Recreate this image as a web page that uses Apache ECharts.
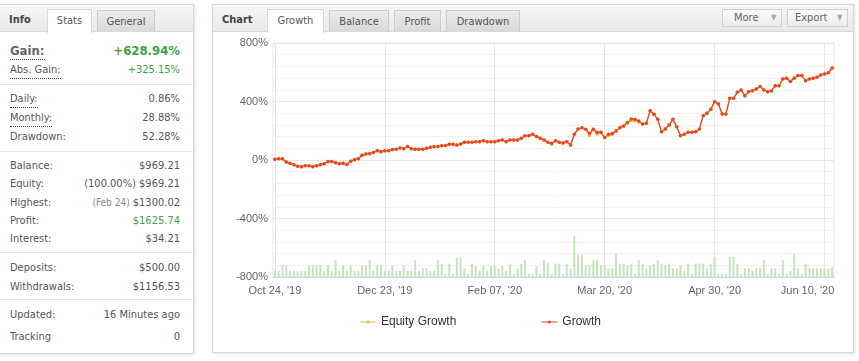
<!DOCTYPE html>
<html><head><meta charset="utf-8">
<script src="https://cdn.jsdelivr.net/npm/echarts@6/dist/echarts.min.js"></script>
<style>
html,body{margin:0;padding:0;width:859px;height:361px;overflow:hidden;background:#fff;}
body{position:relative;font-family:"DejaVu Sans Condensed","DejaVu Sans",sans-serif;font-stretch:condensed;font-size:11px;color:#555;}
.panel{position:absolute;background:#fff;border:1px solid #d9d9d9;box-shadow:1px 1px 3px rgba(0,0,0,0.13);}
.hdr{position:absolute;height:26px;background:linear-gradient(#f7f7f7,#e8e8e8);border-bottom:1px solid #d9d9d9;}
.ttl{position:absolute;font-weight:bold;color:#444;height:16px;line-height:16px;}
.tab{position:absolute;box-sizing:border-box;top:9px;height:23px;line-height:21px;text-align:center;color:#555;border:1px solid #cdcdcd;border-bottom:none;background:linear-gradient(#ececec,#d8d8d8);}
.tab.on{background:#fff;border-color:#d9d9d9;height:24px;}
.row{position:absolute;left:10px;width:170px;height:16px;line-height:16px;}
.row .l{position:absolute;left:0;top:0;height:16px;}
.row .v{position:absolute;right:0;top:0;color:#555;}
.dot{border-bottom:1px dotted #444;}
.g{color:#3fa33f !important;}
.sm{color:#888;font-size:10px;}
.sep{position:absolute;left:0;width:193px;height:1px;background:#e6e6e6;}
.btn{position:absolute;box-sizing:border-box;top:9px;height:18px;border:1px solid #cfcfcf;background:linear-gradient(#fbfbfb,#ececec);color:#666;line-height:16px;}
.btn .t{position:absolute;top:0;}
.btn .a{position:absolute;top:0;color:#aaa;font-size:8px;}
#chart{position:absolute;left:0;top:0;width:859px;height:361px;z-index:5;}
</style>
</head><body>
<!-- Info panel -->
<div class="panel" style="left:-1px;top:4px;width:193px;height:348px;"></div>
<div class="hdr" style="left:0;top:5px;width:193px;"></div>
<div class="ttl" style="left:9px;top:12px;">Info</div>
<div class="tab on" style="left:47px;width:45px;">Stats</div>
<div class="tab" style="left:97px;width:58px;top:10px;height:22px;">General</div>

<div class="row" style="top:43px;height:18px;"><span class="l dot" style="font-weight:bold;font-size:13px;color:#666;">Gain:</span><span class="v g" style="font-weight:bold;font-size:13px;">+628.94%</span></div>
<div class="row" style="top:62px;"><span class="l dot">Abs. Gain:</span><span class="v g">+325.15%</span></div>
<div class="sep" style="top:84px;"></div>
<div class="row" style="top:91px;"><span class="l dot">Daily:</span><span class="v">0.86%</span></div>
<div class="row" style="top:110px;"><span class="l dot">Monthly:</span><span class="v">28.88%</span></div>
<div class="row" style="top:129px;"><span class="l">Drawdown:</span><span class="v">52.28%</span></div>
<div class="sep" style="top:151px;"></div>
<div class="row" style="top:158px;"><span class="l">Balance:</span><span class="v">$969.21</span></div>
<div class="row" style="top:176px;"><span class="l">Equity:</span><span class="v">(100.00%) $969.21</span></div>
<div class="row" style="top:195px;"><span class="l">Highest:</span><span class="v"><span class="sm">(Feb 24)</span> $1300.02</span></div>
<div class="row" style="top:213px;"><span class="l">Profit:</span><span class="v g">$1625.74</span></div>
<div class="row" style="top:231px;"><span class="l">Interest:</span><span class="v">$34.21</span></div>
<div class="sep" style="top:252px;"></div>
<div class="row" style="top:260px;"><span class="l">Deposits:</span><span class="v">$500.00</span></div>
<div class="row" style="top:279px;"><span class="l">Withdrawals:</span><span class="v">$1156.53</span></div>
<div class="sep" style="top:299px;"></div>
<div class="row" style="top:307px;"><span class="l">Updated:</span><span class="v">16 Minutes ago</span></div>
<div class="row" style="top:329px;"><span class="l">Tracking</span><span class="v">0</span></div>

<!-- Chart panel -->
<div class="panel" style="left:212px;top:4px;width:640px;height:347px;"></div>
<div class="hdr" style="left:213px;top:5px;width:640px;"></div>
<div class="ttl" style="left:222px;top:12px;">Chart</div>
<div class="tab on" style="left:267px;width:57px;">Growth</div>
<div class="tab" style="left:329px;width:60px;top:10px;height:22px;">Balance</div>
<div class="tab" style="left:394px;width:47px;top:10px;height:22px;">Profit</div>
<div class="tab" style="left:446px;width:74px;top:10px;height:22px;">Drawdown</div>
<div class="btn" style="left:722px;width:60px;"><span class="t" style="left:11px;">More</span><span class="a" style="left:48px;">&#9660;</span></div>
<div class="btn" style="left:787px;width:61px;"><span class="t" style="left:7px;">Export</span><span class="a" style="left:49px;">&#9660;</span></div>

<div id="chart"></div>
<script>
// tick labels and their category positions
const tickLabels = ["Oct 24, '19", "Dec 23, '19", "Feb 07, '20", "Mar 20, '20", "Apr 30, '20", "Jun 10, '20"];
const tickIndex = [0, 29, 58, 87, 116, 145];

// Growth (%)
const growth = [
  5, 9, 9, -14, -23, -32, -43, -46, -39, -39,
  -46, -39, -32, -25, -11, -11, -18, -25, -23, -30,
  -9, 2, 9, 32, 41, 43, 52, 64, 57, 64,
  64, 71, 73, 82, 77, 93, 77, 73, 73, 73,
  80, 87, 91, 93, 98, 100, 107, 107, 103, 109,
  121, 121, 121, 125, 125, 132, 125, 125, 125, 132,
  137, 125, 137, 137, 137, 148, 166, 166, 176, 160,
  148, 137, 121, 114, 132, 121, 118, 125, 103, 176,
  212, 221, 210, 182, 210, 189, 189, 153, 176, 182,
  198, 221, 233, 255, 280, 278, 267, 246, 251, 337,
  313,
  278, 194, 212, 239, 278, 228, 166, 176, 189, 189,
  194, 212, 303, 319, 347, 399, 383, 315, 315, 422,
  422, 463, 479, 440, 467, 474, 486, 502, 479, 467,
  472, 508, 508, 554, 559, 536, 559, 577, 577, 542,
  554, 559, 565, 581, 588, 596, 629
];

// Equity Growth (%)
const equityGrowth = [
  5, 9, 9, -14, -23, -32, -43, -46, -39, -39,
  -46, -39, -32, -25, -11, -11, -18, -25, -23, -30,
  -9, 2, 9, 32, 41, 43, 52, 64, 57, 64,
  64, 71, 73, 82, 77, 93, 77, 73, 73, 73,
  80, 87, 91, 93, 98, 100, 107, 107, 103, 109,
  121, 121, 121, 125, 125, 132, 125, 125, 125, 132,
  137, 125, 137, 137, 137, 148, 166, 166, 176, 160,
  148, 137, 121, 108, 132, 121, 112, 125, 103, 176,
  212, 221, 210, 167, 210, 176, 189, 153, 168, 175,
  198, 221, 233, 255, 270, 268, 260, 246, 251, 337,
  313,
  278, 194, 212, 239, 278, 228, 166, 176, 189, 189,
  194, 212, 303, 319, 347, 399, 383, 315, 315, 422,
  422, 463, 479, 440, 467, 474, 486, 502, 479, 467,
  472, 508, 508, 554, 559, 536, 559, 577, 577, 542,
  554, 559, 565, 581, 588, 596, 629
];

// daily bars (secondary scale 0-100)
const daily = [
  2.6, 2.6, 5, 5, 2.6, 2.6, 2.6, 2.6, 2.6, 5,
  5, 5, 5, 2.6, 5, 2.6, 7.2, 2.6, 5, 2.6,
  5, 2.6, 2.6, 5, 5, 7.2, 2.6, 5, 5, 2.6,
  2.6, 5, 2.6, 2.6, 5, 2.6, 2.6, 7.2, 2.6, 3.7,
  3.7, 2.6, 2.6, 7.2, 5.7, 1.2, 5.7, 1.2, 8.3, 8.3,
  3.7, 1.2, 5.7, 4.7, 2.6, 4.7, 2.6, 4.7, 4.7, 3.7,
  4.7, 2.6, 5.7, 1.2, 3.7, 5.7, 7.2, 1.2, 1.2, 4.7,
  1.2, 7.2, 6.1, 1.2, 5.7, 5.7, 1.2, 5.7, 3.7, 17.6,
  9.7, 9.7, 5, 5, 7.2, 7.2, 5, 5, 3.7, 3.7,
  9.7, 5.7, 5.7, 5, 5.7, 1.2, 7.2, 5.7, 3.7, 5,
  5.7, 7.2, 5.7, 5, 5.7, 3.7, 3.7, 5, 2.6, 5.7,
  1.2, 5.7, 5.7, 5.7, 3.7, 5.7, 8.6, 1.2, 1.2, 1.2,
  8.6, 8.6, 5.7, 1.2, 3.7, 3.7, 2.6, 3.7, 3.7, 7.2,
  1.2, 3.7, 3.7, 1.2, 7.2, 1.2, 2.6, 9.7, 3.7, 1.2,
  5.7, 3.7, 3.7, 3.7, 3.7, 3.7, 3.7, 4.3
];

const categories = growth.map((_, i) => String(i));
const isTick = (i) => tickIndex.indexOf(i) >= 0;
const FONT = '"Liberation Sans", Arial, sans-serif';

const chart = echarts.init(document.getElementById('chart'), null, {renderer: 'canvas'});
chart.setOption({
  animation: false,
  textStyle: {fontFamily: FONT},
  grid: {left: 273, top: 43, width: 561, height: 234, show: true, borderColor: '#e6e6e6', borderWidth: 1, containLabel: false},
  legend: {
    data: ['Equity Growth', 'Growth'],
    left: 354, top: 311, itemWidth: 16, itemHeight: 4, itemGap: 84,
    lineStyle: {width: 2, opacity: 0.5},
    itemStyle: {opacity: 0.9},
    textStyle: {color: '#333', fontSize: 12, fontFamily: FONT}
  },
  xAxis: {
    type: 'category', data: categories, boundaryGap: true,
    axisLine: {onZero: false, lineStyle: {color: '#ccd6eb'}},
    axisTick: {show: false},
    axisLabel: {
      interval: (i) => isTick(i),
      formatter: (v) => {
        const k = tickIndex.indexOf(Number(v));
        if (k < 0) return '';
        return k === tickLabels.length - 1 ? '{last|' + tickLabels[k] + '}' : tickLabels[k];
      },
      rich: {last: {padding: [0, 34, 0, 0], color: '#666', fontSize: 11, fontFamily: FONT}},
      color: '#666', fontSize: 11, margin: 8
    },
    splitLine: {show: true, interval: (i) => isTick(i), alignWithLabel: true, lineStyle: {color: '#e6e6e6'}}
  },
  yAxis: [
    {type: 'value', min: -800, max: 800, interval: 400,
     axisLabel: {formatter: '{value}%', color: '#666', fontSize: 11, margin: 5},
     axisLine: {show: false}, axisTick: {show: false},
     splitLine: {lineStyle: {color: '#e6e6e6'}},
     minorTick: {show: false, splitNumber: 5},
     minorSplitLine: {show: true, lineStyle: {color: '#f2f2f2'}}},
    {type: 'value', min: 0, max: 100, show: false, splitLine: {show: false}}
  ],
  series: [
    {name: 'Daily', type: 'bar', yAxisIndex: 1, data: daily, barWidth: 2, itemStyle: {color: '#c4e4bc'}, silent: true},
    {name: 'Equity Growth', type: 'line', data: equityGrowth, symbol: 'circle', symbolSize: 3.5, showAllSymbol: true,
     itemStyle: {color: '#f6b92e'}, lineStyle: {color: '#f6b92e', width: 1.3}},
    {name: 'Growth', type: 'line', data: growth, symbol: 'circle', symbolSize: 3.5, showAllSymbol: true,
     itemStyle: {color: '#e5452b'}, lineStyle: {color: '#e8482e', width: 1.3}}
  ]
});
</script>
</body></html>
